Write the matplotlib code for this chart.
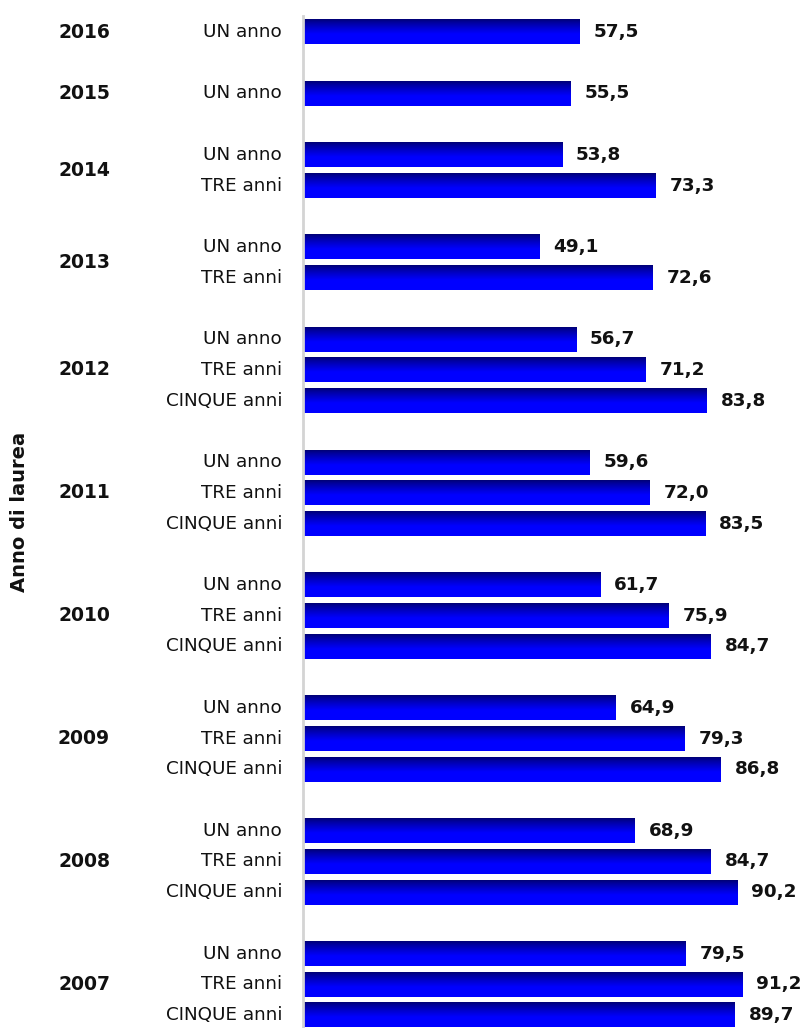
import numpy as np
import matplotlib.pyplot as plt

years = ["2016", "2015", "2014", "2013", "2012", "2011", "2010", "2009", "2008", "2007"]
periods = ["UN anno", "TRE anni", "CINQUE anni"]

# valori per anno di laurea: UN anno, TRE anni, CINQUE anni (None = non disponibile)
un_anno = [57.5, 55.5, 53.8, 49.1, 56.7, 59.6, 61.7, 64.9, 68.9, 79.5]
tre_anni = [None, None, 73.3, 72.6, 71.2, 72.0, 75.9, 79.3, 84.7, 91.2]
cinque_anni = [None, None, None, None, 83.8, 83.5, 84.7, 86.8, 90.2, 89.7]

W, H = 801, 1028
fig = plt.figure(figsize=(W / 100, H / 100), dpi=100)
ax = fig.add_axes([303 / W, 0, 498 / W, (H - 16) / H])

px_per_unit = 4.815
xmax = 498 / px_per_unit
bar_h = 0.81
txt = "#111111"

# gradiente verticale: blu scuro in alto, blu pieno in basso
t = np.linspace(0, 1, 64)
g = np.clip(t / 0.6, 0, 1) ** 0.8
grad = np.zeros((64, 1, 3))
grad[:, 0, 2] = 0.45 + 0.55 * g

slot = 0
for i, year in enumerate(years):
    vals = [un_anno[i], tre_anni[i], cinque_anni[i]]
    slots = []
    for label, v in zip(periods, vals):
        if v is None:
            continue
        y = -slot
        ax.imshow(grad, extent=[0, v, y - bar_h / 2, y + bar_h / 2],
                  origin="upper", aspect="auto", interpolation="bilinear", zorder=2)
        ax.text(-21 / px_per_unit, y, label, ha="right", va="center",
                fontsize=13.2, color=txt, clip_on=False)
        ax.text(v + 14 / px_per_unit, y, f"{v:.1f}".replace(".", ","),
                ha="left", va="center", fontsize=13.2, fontweight="bold",
                color=txt, clip_on=False)
        slots.append(y)
        slot += 1
    ax.text(-219 / px_per_unit, np.mean(slots), year, ha="center", va="center",
            fontsize=13.5, fontweight="bold", color=txt, clip_on=False)
    slot += 1

ax.set_xlim(0, xmax)
ax.set_ylim(-(H - 32) / 30.72, 16 / 30.72)

for s in ["top", "right", "bottom"]:
    ax.spines[s].set_visible(False)
ax.spines["left"].set_color("#d4d4d4")
ax.spines["left"].set_linewidth(2)
ax.set_xticks([])
ax.set_yticks([])

fig.text(20 / W, 1 - 512 / H, "Anno di laurea", rotation=90, ha="center", va="center",
         fontsize=14, fontweight="bold", color=txt)

fig.savefig("out.png", dpi=100)
